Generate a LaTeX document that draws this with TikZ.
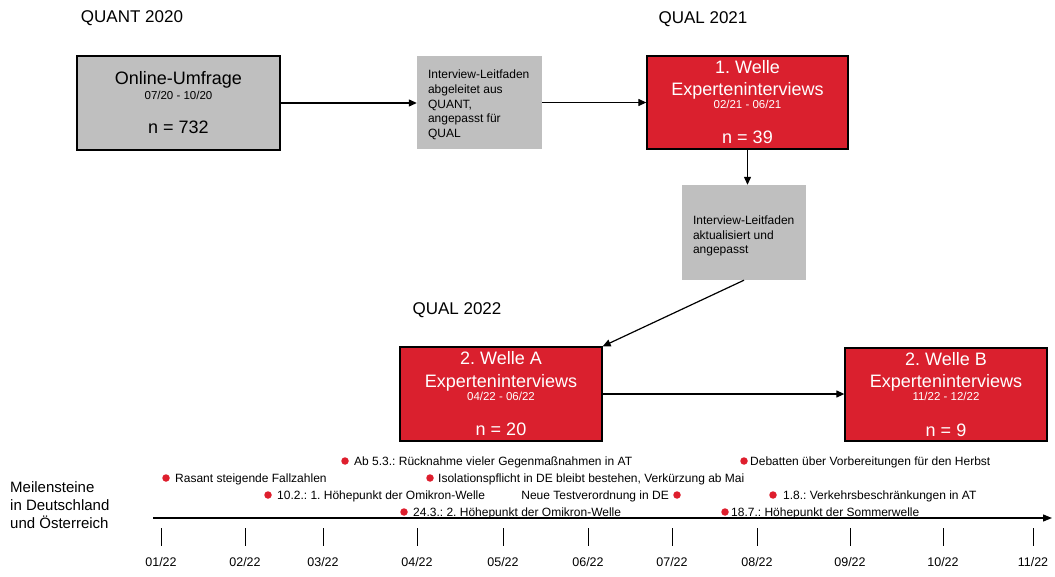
\documentclass[tikz,border=0pt]{standalone}
\usepackage{fontspec}
\setmainfont{Liberation Sans}
\usetikzlibrary{arrows.meta,calc}
\definecolor{boxred}{RGB}{218,32,46}
\definecolor{boxgray}{RGB}{191,191,191}
\definecolor{dotred}{RGB}{222,30,45}
\frenchspacing
\begin{document}
\begin{tikzpicture}[x=1pt,y=-1pt,
  phase/.style={font=\fontsize{17}{20}\selectfont, inner sep=0},
  stagebox/.style={draw=black, line width=1.3pt, inner sep=0},
  redstage/.style={stagebox, fill=boxred},
  graystage/.style={stagebox, fill=boxgray},
  guidebox/.style={fill=boxgray, inner sep=0},
  bigtext/.style={font=\fontsize{18}{21}\selectfont, inner sep=0, anchor=base},
  datetext/.style={font=\fontsize{11.5}{13}\selectfont, inner sep=0, anchor=base},
  guidetext/.style={font=\fontsize{12}{14.7}\selectfont, inner sep=0, align=left, anchor=north west},
  arr/.style={line width=1.2pt, -{Triangle[length=8pt,width=7pt]}},
  dot/.style={circle, fill=dotred, minimum size=7.5pt, inner sep=0},
  evtext/.style={font=\fontsize{12}{14}\selectfont, inner sep=0},
  month/.style={font=\fontsize{12.5}{14}\selectfont, inner sep=0, anchor=base}
]
\useasboundingbox (0,0) rectangle (1055,577);

% phase headings
\node[phase, anchor=base] (quant20) at (132,23) {QUANT 2020};
\node[phase, anchor=base] (qual21) at (703,24) {QUAL 2021};
\node[phase, anchor=base] (qual22) at (457,315) {QUAL 2022};

% quantitative survey
\node[graystage, minimum width=203pt, minimum height=94pt] (umfrage) at (178.5,103) {};
\node[bigtext] (umfrageA) at ($(umfrage.north)+(0,29)$) {Online-Umfrage};
\node[datetext] (umfrageB) at ($(umfrage.north)+(0,44)$) {07/20 - 10/20};
\node[bigtext] (umfrageC) at ($(umfrage.north)+(0,78)$) {n = 732};

% first interview guide
\node[guidebox, minimum width=125pt, minimum height=93pt] (guideA) at (479.5,102.5) {};
\node[guidetext] (guideAt) at ($(guideA.north west)+(11,14)$)
  {Interview-Leitfaden\\abgeleitet aus\\QUANT,\\angepasst für\\QUAL};

% first wave
\node[redstage, minimum width=201pt, minimum height=93pt] (welle1) at (747.5,102.5) {};
\node[bigtext, white] (welle1a) at ($(welle1.north)+(0,18.5)$) {1. Welle};
\node[bigtext, white] (welle1b) at ($(welle1.north)+(0,40)$) {Experteninterviews};
\node[datetext, white] (welle1c) at ($(welle1.north)+(0,53)$) {02/21 - 06/21};
\node[bigtext, white] (welle1d) at ($(welle1.north)+(0,88)$) {n = 39};

% updated interview guide
\node[guidebox, minimum width=124pt, minimum height=95pt] (guideB) at (744,232.5) {};
\node[guidetext] (guideBt) at ($(guideB.north west)+(11,30.8)$)
  {Interview-Leitfaden\\aktualisiert und\\angepasst};

% second wave A
\node[redstage, minimum width=202pt, minimum height=94pt] (welle2a) at (501,394) {};
\node[bigtext, white] (welle2aa) at ($(welle2a.north)+(0,18.5)$) {2. Welle A};
\node[bigtext, white] (welle2ab) at ($(welle2a.north)+(0,41)$) {Experteninterviews};
\node[datetext, white] (welle2ac) at ($(welle2a.north)+(0,54)$) {04/22 - 06/22};
\node[bigtext, white] (welle2ad) at ($(welle2a.north)+(0,89.5)$) {n = 20};

% second wave B
\node[redstage, minimum width=202pt, minimum height=93pt] (welle2b) at (946,394.5) {};
\node[bigtext, white] (welle2ba) at ($(welle2b.north)+(0,18.5)$) {2. Welle B};
\node[bigtext, white] (welle2bb) at ($(welle2b.north)+(0,40.5)$) {Experteninterviews};
\node[datetext, white] (welle2bc) at ($(welle2b.north)+(0,53.5)$) {11/22 - 12/22};
\node[bigtext, white] (welle2bd) at ($(welle2b.north)+(0,89)$) {n = 9};

% flow
\draw[arr] (umfrage.east) -- (guideA.west |- umfrage.east);
\draw[arr] (guideA.east) -- (welle1.west);
\draw[arr] (welle1.south) -- (welle1.south |- guideB.north);
\draw[arr] (guideB.south) -- (welle2a.north east);
\draw[arr] (welle2a.east) -- (welle2b.west |- welle2a.east);

% timeline
\node[font=\fontsize{15}{18}\selectfont, inner sep=0, align=left, anchor=north west] (milestones)
  at (10,481) {Meilensteine\\in Deutschland\\und Österreich};
\coordinate (axstart) at (153,518);
\coordinate (axend) at (1052,518);
\draw[line width=1.3pt, -{Triangle[length=9pt,width=7pt]}] (axstart) -- (axend);
\foreach \x/\mm in {161/01,245/02,323/03,417/04,503/05,588/06,672/07,757/08,850/09,943/10,1033/11} {
  \draw[line width=1pt] (\x,528) -- (\x,546);
  \node[month] (month\mm) at (\x,566) {\mm/22};
}

% milestones
\node[dot] (ev1) at (345,461) {};
\node[evtext, anchor=base west] (ev1t) at ($(ev1)+(9,4.3)$) {Ab 5.3.: Rücknahme vieler Gegenmaßnahmen in AT};
\node[dot] (ev2) at (166,478) {};
\node[evtext, anchor=base west] (ev2t) at ($(ev2)+(9,4.3)$) {Rasant steigende Fallzahlen};
\node[dot] (ev3) at (430,478) {};
\node[evtext, anchor=base west] (ev3t) at ($(ev3)+(8,4.3)$) {Isolationspflicht in DE bleibt bestehen, Verkürzung ab Mai};
\node[dot] (ev4) at (268,495) {};
\node[evtext, anchor=base west] (ev4t) at ($(ev4)+(9,4.3)$) {10.2.: 1. Höhepunkt der Omikron-Welle};
\node[dot] (ev5) at (677,495) {};
\node[evtext, anchor=base east] (ev5t) at ($(ev5)+(-8,4.3)$) {Neue Testverordnung in DE};
\node[dot] (ev6) at (404,512) {};
\node[evtext, anchor=base west] (ev6t) at ($(ev6)+(9,4.3)$) {24.3.: 2. Höhepunkt der Omikron-Welle};
\node[dot] (ev7) at (744,461) {};
\node[evtext, anchor=base west] (ev7t) at ($(ev7)+(6,4.3)$) {Debatten über Vorbereitungen für den Herbst};
\node[dot] (ev8) at (773,495) {};
\node[evtext, anchor=base west] (ev8t) at ($(ev8)+(10,4.3)$) {1.8.: Verkehrsbeschränkungen in AT};
\node[dot] (ev9) at (725,512) {};
\node[evtext, anchor=base west] (ev9t) at ($(ev9)+(6,4.3)$) {18.7.: Höhepunkt der Sommerwelle};
\end{tikzpicture}
\end{document}
